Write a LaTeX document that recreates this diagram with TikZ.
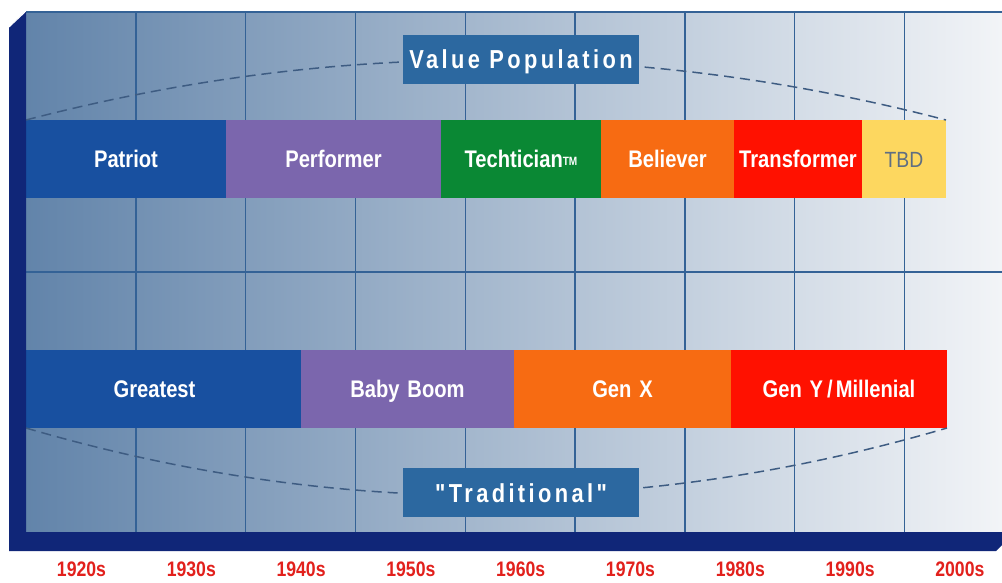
\documentclass[tikz,border=0pt]{standalone}
\usepackage{fontspec}
\setmainfont{Liberation Sans}
\newfontfamily\barfont[FakeStretch=0.84,WordSpace=1.4]{Liberation Sans}
\newfontfamily\boxfont[FakeStretch=0.84,LetterSpace=13]{Liberation Sans}
\newfontfamily\tbdfont[FakeStretch=0.88]{Liberation Sans}
\definecolor{navy}{RGB}{16,38,120}
\definecolor{panelL}{RGB}{98,132,170}
\definecolor{panelR}{RGB}{242,244,247}
\definecolor{gridc}{RGB}{52,98,150}
\definecolor{dashc}{RGB}{62,92,130}
\definecolor{cblue}{RGB}{24,80,160}
\definecolor{cpurple}{RGB}{123,102,173}
\definecolor{cgreen}{RGB}{10,136,52}
\definecolor{corange}{RGB}{247,107,18}
\definecolor{cred}{RGB}{255,17,0}
\definecolor{cyellow}{RGB}{253,215,95}
\definecolor{tbdtext}{RGB}{95,110,130}
\definecolor{boxc}{RGB}{44,104,160}
\definecolor{decred}{RGB}{226,32,28}
\tikzset{
  bar/.style={anchor=north west, minimum height=78, inner sep=0, outer sep=0,
    text height=17, text depth=0, text=white,
    font=\barfont\bfseries\fontsize{24}{24}\selectfont},
  labelbox/.style={fill=boxc, minimum width=236, minimum height=49, inner sep=0,
    text height=19, text depth=0, text=white,
    font=\boxfont\bfseries\fontsize{26}{26}\selectfont},
  gridline/.style={draw=gridc, line width=1.4},
  arc/.style={draw=dashc, line width=1.5, dash pattern=on 10 off 6},
  decade/.style={anchor=base, text=decred, inner sep=0, text depth=0,
    font=\barfont\bfseries\fontsize{21}{21}\selectfont},
}
\begin{document}
\begin{tikzpicture}[x=1pt,y=-1pt]
\useasboundingbox (0,0) rectangle (1002,582);
\fill[white] (0,0) rectangle (1002,582);
% panel
\shade[left color=panelL, right color=panelR] (26,12) rectangle (1002,532);
\draw[gridline] (26,12) -- (1002,12);
\foreach \k in {1,...,8}{
  \draw[gridline] ({26+109.8*\k},12) -- ({26+109.8*\k},532);
}
\draw[gridline, line width=2] (26,272) -- (1002,272);
% top bars
\node[bar, fill=cblue, minimum width=200] (patriot) at (26,120) {Patriot};
\node[bar, fill=cpurple, minimum width=215] (performer) at (226,120) {Performer};
\node[bar, fill=cgreen, minimum width=160] (techtician) at (441,120) {Techtician{\fontsize{12}{12}\selectfont\raisebox{2pt}{TM}}};
\node[bar, fill=corange, minimum width=133] (believer) at (601,120) {Believer};
\node[bar, fill=cred, minimum width=128] (transformer) at (734,120) {Transformer};
\node[bar, fill=cyellow, minimum width=84, text=tbdtext, font=\tbdfont\fontsize{22}{22}\selectfont, text height=16] (tbd) at (862,120) {TBD};
% bottom bars
\node[bar, fill=cblue, minimum width=275] (greatest) at (26,350) {Greatest\kern18pt};
\node[bar, fill=cpurple, minimum width=213] (babyboom) at (301,350) {Baby Boom};
\node[bar, fill=corange, minimum width=217] (genx) at (514,350) {Gen X};
\node[bar, fill=cred, minimum width=216] (geny) at (731,350) {Gen Y\kern4pt/\kern3pt Millenial};
% dashed arcs
\draw[arc] (patriot.north west) .. controls (332.7,40) and (639.3,40) .. (tbd.north east);
\draw[arc] (greatest.south west) .. controls (333,518) and (640,518) .. (geny.south east);
% label boxes
\node[labelbox] (valuepop) at (521,59) {Value Population};
\node[labelbox] (traditional) at (521,492.5) {"Traditional"};
% frame
\fill[navy] (9,27) -- (25,12) -- (26,12) -- (26,532) -- (1002,532) -- (1002,545) -- (996,551) -- (9,551) -- cycle;
\draw[white, line width=1] (9,27) -- (25,12);
% decades
\foreach \d [count=\i from 0] in {1920s,1930s,1940s,1950s,1960s,1970s,1980s,1990s,2000s}{
  \node[decade] (dec\i) at ({81.5+109.8*\i},576.5) {\d};
}
\end{tikzpicture}
\end{document}
